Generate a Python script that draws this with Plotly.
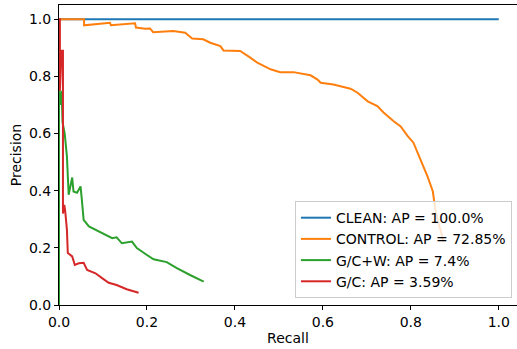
import plotly.graph_objects as go

clean_recall = [0.0, 1.0]
clean_precision = [1.0, 1.0]

control_recall = [0.0, 0.057, 0.057, 0.116, 0.118, 0.173, 0.175, 0.196, 0.207, 0.214, 0.260, 0.287,
                  0.303, 0.328, 0.344, 0.367, 0.374, 0.412, 0.435, 0.451, 0.481, 0.503, 0.533, 0.572,
                  0.588, 0.595, 0.624, 0.663, 0.679, 0.702, 0.724, 0.738, 0.761, 0.777, 0.793, 0.806,
                  0.822, 0.838, 0.850, 0.856, 0.861, 0.872, 0.875]
control_precision = [1.0, 1.0, 0.979, 0.988, 0.979, 0.986, 0.971, 0.967, 0.968, 0.955, 0.959, 0.953,
                     0.933, 0.930, 0.918, 0.906, 0.891, 0.889, 0.866, 0.848, 0.825, 0.815, 0.815, 0.804,
                     0.789, 0.778, 0.772, 0.757, 0.743, 0.713, 0.696, 0.674, 0.643, 0.625, 0.591, 0.568,
                     0.509, 0.450, 0.398, 0.333, 0.298, 0.240, 0.221]

gcw_recall = [0.0, 0.0, 0.004, 0.006, 0.008, 0.013, 0.018, 0.020, 0.022, 0.030, 0.033, 0.041, 0.049,
              0.052, 0.056, 0.068, 0.083, 0.105, 0.121, 0.131, 0.143, 0.166, 0.177, 0.200, 0.215,
              0.245, 0.268, 0.298, 0.329]
gcw_precision = [0.0, 0.76, 0.70, 0.75, 0.64, 0.60, 0.52, 0.463, 0.386, 0.446, 0.397, 0.393, 0.415,
                 0.368, 0.298, 0.275, 0.263, 0.246, 0.234, 0.237, 0.216, 0.222, 0.199, 0.175, 0.160,
                 0.150, 0.129, 0.105, 0.082]

gc_recall = [0.0, 0.002, 0.002, 0.006, 0.009, 0.009, 0.012, 0.014, 0.018, 0.020, 0.030, 0.036, 0.045,
             0.056, 0.064, 0.083, 0.098, 0.113, 0.131, 0.154, 0.181]
gc_precision = [1.0, 1.0, 0.75, 0.89, 0.89, 0.32, 0.35, 0.33, 0.263, 0.182, 0.17, 0.14, 0.146,
                0.148, 0.123, 0.111, 0.094, 0.078, 0.070, 0.055, 0.043]

series = [
    ("CLEAN: AP = 100.0%", clean_recall, clean_precision, "#1f77b4"),
    ("CONTROL: AP = 72.85%", control_recall, control_precision, "#ff7f0e"),
    ("G/C+W: AP = 7.4%", gcw_recall, gcw_precision, "#2ca02c"),
    ("G/C: AP = 3.59%", gc_recall, gc_precision, "#d62728"),
]

fig = go.Figure()
for name, r, p, c in series:
    fig.add_trace(go.Scatter(x=r, y=p, mode="lines", name=name,
                             line=dict(color=c, width=2)))

font = dict(family="DejaVu Sans", size=14, color="black")
title_font = dict(family="DejaVu Sans", size=14, color="black")
fig.update_layout(
    width=517, height=349,
    margin=dict(l=59, r=0, t=5, b=44),
    plot_bgcolor="white", paper_bgcolor="white",
    font=font,
    showlegend=True,
    legend=dict(x=0.989, y=0.023, xanchor="right", yanchor="bottom",
                bgcolor="rgba(255,255,255,0.8)", bordercolor="#cccccc", borderwidth=1,
                font=dict(family="DejaVu Sans", size=14, color="black"),
                tracegroupgap=0),
    xaxis=dict(range=[0, 1.0415], tickvals=[0, 0.2, 0.4, 0.6, 0.8, 1.0], tickformat=".1f",
               showgrid=False, zeroline=False, showline=True, linecolor="black", linewidth=1,
               mirror=True, ticks="outside", ticklen=4, tickcolor="black", automargin=False,
               title=dict(text="Recall", standoff=4, font=title_font)),
    yaxis=dict(range=[0, 1.05], tickvals=[0, 0.2, 0.4, 0.6, 0.8, 1.0], tickformat=".1f",
               showgrid=False, zeroline=False, showline=True, linecolor="black", linewidth=1,
               mirror=False, ticks="outside", ticklen=4, tickcolor="black", automargin=False,
               title=dict(text="Precision", standoff=4, font=title_font)),
)

fig.write_html("out.html")
